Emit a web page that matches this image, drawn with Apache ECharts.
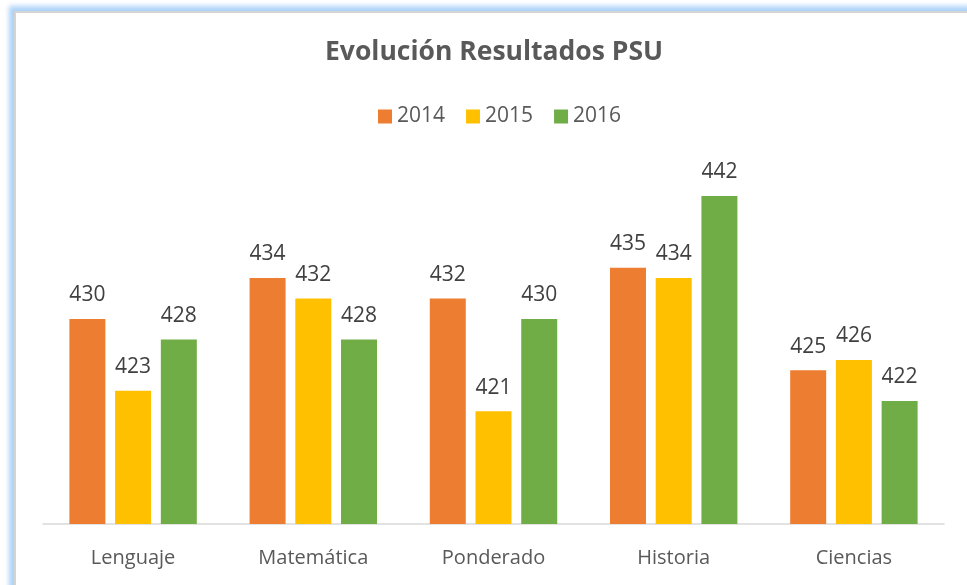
<!DOCTYPE html>
<html>
<head>
<meta charset="utf-8">
<script src="https://cdn.jsdelivr.net/npm/echarts@6/dist/echarts.min.js"></script>
<style>
  html, body { margin: 0; padding: 0; background: #fff; overflow: hidden; }
  .frame {
    position: absolute; left: 14px; top: 11px; width: 1000px; height: 700px;
    border-left: 2px solid #d4d4d4; border-top: 2px solid #d4d4d4;
    box-shadow: 0 0 5px 5px #acd3f8;
    background: #fff;
  }
  #chart { position: absolute; left: 0; top: 0; width: 967px; height: 585px; }
</style>
</head>
<body>
<div class="frame"></div>
<div id="chart"></div>
<script>
// datos de la PSU por año
var categorias = ['Lenguaje', 'Matemática', 'Ponderado', 'Historia', 'Ciencias'];
var anios = ['2014', '2015', '2016'];
var datos2014 = [430, 434, 432, 435, 425];
var datos2015 = [423, 432, 421, 434, 426];
var datos2016 = [428, 428, 430, 442, 422];
var colores = ['#ED7D31', '#FFC000', '#70AD47'];

var myChart = echarts.init(document.getElementById('chart'));

function serie(nombre, valores, color) {
  return {
    name: nombre,
    type: 'bar',
    data: valores,
    barWidth: 36,
    barGap: '27%',
    itemStyle: { color: color },
    label: {
      show: true,
      position: 'top',
      distance: 13,
      color: '#404040',
      fontSize: 21,
      fontFamily: 'Open Sans'
    }
  };
}

var option = {
  animation: false,
  title: {
    text: 'Evolución Resultados PSU',
    left: 320,
    top: 34,
    textStyle: {
      color: '#595959',
      fontSize: 26.5,
      fontWeight: 'bold',
      fontFamily: 'Open Sans'
    }
  },
  legend: {
    data: anios,
    top: 101,
    left: 373,
    itemWidth: 14,
    itemHeight: 14,
    itemGap: 21,
    icon: 'rect',
    textStyle: { color: '#595959', fontSize: 21, fontFamily: 'Open Sans' }
  },
  grid: { left: 43, right: 23, top: 114, bottom: 61 },
  xAxis: {
    type: 'category',
    data: categorias,
    axisLine: { lineStyle: { color: '#d9d9d9', width: 1.5 } },
    axisTick: { show: false },
    axisLabel: { color: '#595959', fontSize: 20, fontFamily: 'Open Sans', margin: 24 }
  },
  yAxis: {
    type: 'value',
    min: 410,
    max: 450,
    show: false,
    splitLine: { show: false }
  },
  series: [
    serie(anios[0], datos2014, colores[0]),
    serie(anios[1], datos2015, colores[1]),
    serie(anios[2], datos2016, colores[2])
  ]
};
myChart.setOption(option);
</script>
</body>
</html>
